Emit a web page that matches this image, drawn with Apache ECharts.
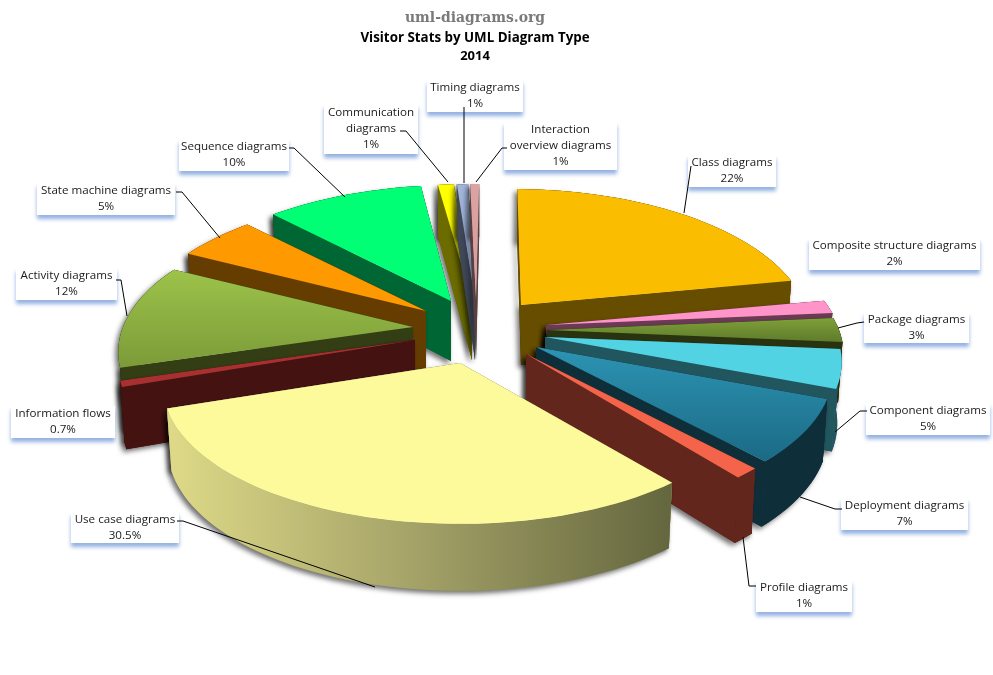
<!DOCTYPE html>
<html>
<head>
<meta charset="utf-8">
<style>html,body{margin:0;padding:0;background:#fff}#c{width:993px;height:675px}</style>
<script src="https://cdn.jsdelivr.net/npm/echarts@6/dist/echarts.min.js"></script>
</head>
<body>
<div id="c"></div>
<script>
// ---- data ----
const categories = ['Class diagrams','Composite structure diagrams','Package diagrams','Component diagrams','Deployment diagrams','Profile diagrams','Use case diagrams','Information flows','Activity diagrams','State machine diagrams','Sequence diagrams','Communication diagrams','Timing diagrams','Interaction overview diagrams'];
const sliceShares = [21.8,1.5,2.8,4.44,7.22,1.2,30.5,0.7,12.06,5.14,10.17,1.03,0.72,0.58];
const percentLabels = ['22%','2%','3%','5%','7%','1%','30.5%','0.7%','12%','5%','10%','1%','1%','1%'];
const labelNames = ['Class diagrams','Composite structure diagrams','Package diagrams','Component diagrams','Deployment diagrams','Profile diagrams','Use case diagrams','Information flows','Activity diagrams','State machine diagrams','Sequence diagrams','Communication\ndiagrams','Timing diagrams','Interaction\noverview diagrams'];

// ---- layout & style ----
const apexX = [521,546,547,545,536,526,460,415,413,426,451,472,475,476];
const apexY = [305,325,330,337,347,354,363,340,327,311,301,300,300,300];
const rimDx = [-8,0,0,0,0,0,0,0,2,3,4,0,0,1];
const ryScale = [1,1,1,1,1,1,0.97,1,1,1,1,1,1,1];
const topA = ['#FBBD00','#FF94C8','#7FA03A','#52D3E3','#2C94B3','#F4644A','#FCFA9A','#A93030','#9DC34A','#FF9900','#00FF75','#FFFF00','#A3B6DA','#DCA3A3'];
const topB = ['#FBBD00','#FF94C8','#5E7B2B','#52D3E3','#1B6A85','#F4644A','#FCFA9A','#A93030','#7B9B38','#FF9900','#00FF75','#FFFF00','#8FA4CC','#D89C9C'];
const wallCol = ['#664D00','#6B3A55','#2A330F','#22565F','#0E2F3A','#63261C','#8E8C56','#451212','#333E14','#663D00','#006633','#6B6B00','#3F4758','#584040'];
const drawOrder = [11,12,13,0,1,2,3,4,5,10,9,8,7,6];
const boxes = [[688,155,88,32],[809,238,171,32],[864,312,105,31],[866,403,124,32],[841,498,127,32],[756,580,96,32],[71,512,108,31],[11,406,104,32],[16,268,101,32],[37,183,138,32],[179,139,110,32],[324,104,94,50],[427,80,96,32],[504,122,113,48]];
const leaders = [
 [[691,166],[684,213]],
 null,
 [[864,322],[857,323],[838,328]],
 [[867,411],[860,411],[835,432]],
 [[842,509],[835,509],[800,497]],
 [[756,586],[749,586],[743,537]],
 [[177,521],[183,521],[375,587]],
 null,
 [[116,280],[121,280],[127,316]],
 [[176,192],[182,192],[220,238]],
 [[289,148],[294,148],[345,197]],
 [[400,131],[406,131],[448,182]],
 [[464,107],[464,183]],
 [[507,148],[502,148],[476,182]]
];
const startDeg = 1, Rx = 292, Ry = 136.5, K = 0.177, fullPie = 100;
const cum = []; sliceShares.reduce((a,b,i)=>{cum[i]=a;return a+b;},0);

function rimPt(deg, i, low){
  const t = deg*Math.PI/180, c = Math.cos(t), s = Math.sin(t), p = 1/(1+K*c);
  const ax = apexX[i]+rimDx[i], ay = apexY[i];
  const dx = Rx*s*p, dy = -Ry*ryScale[i]*c*p;
  if(!low) return [ax+dx, ay+dy];
  return [ax+dx*0.985, ay+dy+60-7*c];
}
const SHADOW = {shadowBlur:5,shadowColor:'rgba(0,0,0,0.55)',shadowOffsetX:-3,shadowOffsetY:3};
function renderItem(params, api){
  const i = api.value(0), share = api.value(1), before = api.value(2);
  const a0 = startDeg + before/fullPie*360, a1 = a0 + share/fullPie*360;
  const ax = apexX[i], ay = apexY[i];
  const lowRim=[], hiRim=[];
  const n = Math.max(2, Math.ceil((a1-a0)/2));
  for(let j=0;j<=n;j++){
    const d = a0+(a1-a0)*j/n;
    hiRim.push(rimPt(d,i,false));
    lowRim.push(rimPt(d,i,true));
  }
  const top = [[ax,ay]].concat(hiRim);
  const ab = [ax, ay+60];
  const shapes = [[[ax,ay],hiRim[0],lowRim[0],ab],[[ax,ay],hiRim[n],lowRim[n],ab]];
  const rimPts = hiRim.concat(lowRim.slice().reverse());
  const rimFill = i===6 ? new echarts.graphic.LinearGradient(0,0,1,0,[{offset:0,color:'#DEDA88'},{offset:0.5,color:'#A3A167'},{offset:1,color:'#64663E'}]) : wallCol[i];
  const kids = [];
  shapes.concat([rimPts]).forEach(p=>kids.push({type:'polygon',shape:{points:p},style:Object.assign({fill:wallCol[i]},SHADOW)}));
  shapes.forEach(p=>kids.push({type:'polygon',shape:{points:p},style:{fill:wallCol[i]}}));
  kids.push({type:'polygon',shape:{points:rimPts},style:{fill:rimFill}});
  kids.push({type:'polygon',shape:{points:top},style:{fill:new echarts.graphic.LinearGradient(0,0,0,1,[{offset:0,color:topA[i]},{offset:1,color:topB[i]}])}});
  return {type:'group',children:kids};
}

const sliceData = drawOrder.map(i=>({name:categories[i],value:[i,sliceShares[i],cum[i]]}));

const graphics = [];
boxes.forEach((b,i)=>{
  graphics.push({type:'rect',z:20,shape:{x:b[0],y:b[1],width:b[2],height:b[3]},
    style:{fill:'#fff',shadowColor:'rgba(110,150,215,0.75)',shadowBlur:4,shadowOffsetY:4}});
});
boxes.forEach((b,i)=>{
  graphics.push({type:'text',z:21,x:b[0]+b[2]/2,y:b[1]+b[3]/2,
    style:{text:labelNames[i]+'\n'+percentLabels[i],fill:'#1a1a1a',font:'11.6px "Open Sans"',lineHeight:16,align:'center',verticalAlign:'middle'}});
});
leaders.forEach(l=>{ if(l) graphics.push({type:'polyline',z:22,shape:{points:l},style:{stroke:'#000',lineWidth:1,fill:null}}); });

const chart = echarts.init(document.getElementById('c'));
chart.setOption({
  animation:false,
  backgroundColor:'#fff',
  title:[
    {text:'uml-diagrams.org',left:475,top:10,padding:0,textAlign:'center',textStyle:{fontFamily:'DejaVu Serif Condensed',fontWeight:'bold',fontSize:15.5,color:'#7a7a7a'}},
    {text:'Visitor Stats by UML Diagram Type',left:475,top:32,padding:0,textAlign:'center',textStyle:{fontFamily:'Open Sans',fontWeight:'bold',fontSize:13.35,color:'#000'}},
    {text:'2014',left:475,top:50,padding:0,textAlign:'center',textStyle:{fontFamily:'Open Sans',fontWeight:'bold',fontSize:13,color:'#000'}}
  ],
  series:[{type:'custom',coordinateSystem:'none',renderItem:renderItem,data:sliceData,silent:true}],
  graphic:graphics
});
</script>
</body>
</html>
